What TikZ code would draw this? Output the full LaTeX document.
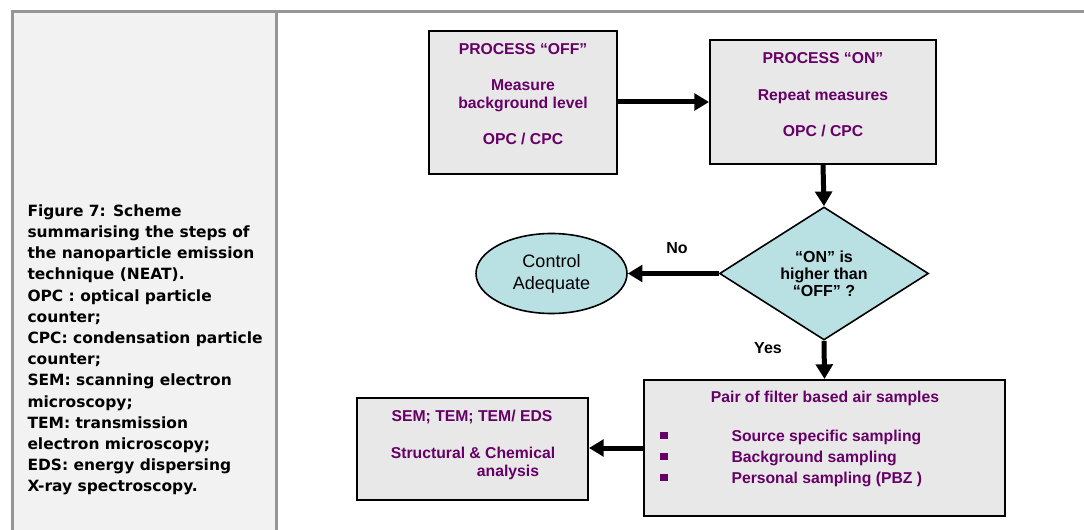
\documentclass[tikz,border=0pt]{standalone}
\usepackage{fontspec}
\setmainfont{Liberation Sans}
\newfontfamily\capfont{DejaVu Sans}
\usetikzlibrary{arrows.meta,shapes.geometric}

\definecolor{boxgrey}{RGB}{232,232,232}
\definecolor{cellgrey}{RGB}{242,242,242}
\definecolor{rulegrey}{RGB}{150,150,150}
\definecolor{plum}{RGB}{102,0,102}
\definecolor{paleblue}{RGB}{185,224,227}

\tikzset{every picture/.style={line width=0.75pt}}
\tikzset{
  stepbox/.style={draw=black, line width=1.5pt, fill=boxgrey, inner sep=0pt},
  testshape/.style={draw=black, line width=1.2pt, fill=paleblue, inner sep=0pt},
  plumtext/.style={text=plum, font=\bfseries\fontsize{11.8}{13.5}\selectfont, inner sep=0pt, align=center},
  blacktext/.style={text=black, font=\bfseries\fontsize{12}{12.75}\selectfont, inner sep=0pt, align=center},
  flowarrow/.style={line width=3.75pt, -{Triangle[length=11pt,width=12.5pt]}},
  bulletsq/.style={fill=plum, minimum size=5.5pt, inner sep=0pt},
}

\begin{document}
\begin{tikzpicture}[x=0.75pt,y=0.75pt,yscale=-1,xscale=1]
\useasboundingbox (0,0) rectangle (1084,530);

%Shape: Rectangle [caption cell]
\fill[cellgrey] (12,12) rectangle (276,530);
\draw[rulegrey, line width=2.25pt] (12,530) -- (12,12) -- (1084,12);
\draw[rulegrey, line width=2.25pt] (276,12) -- (276,530);

%Caption
\node[anchor=north west, inner sep=0pt, align=left, font=\capfont\bfseries\fontsize{11.6}{15.9}\selectfont] (caption) at (27,204)
  {Figure 7: Scheme\\ summarising the steps of\\ the nanoparticle emission\\ technique (NEAT).\\ OPC : optical particle\\ counter;\\ CPC: condensation particle\\ counter;\\ SEM: scanning electron\\ microscopy;\\ TEM: transmission\\ electron microscopy;\\ EDS: energy dispersing\\ X-ray spectroscopy.};

%Shape: Rectangle [process off]
\node[stepbox, minimum width=141pt, minimum height=107.25pt] (off) at (523,102.5) {};
\node[plumtext] (offtext) at (523,94.5) {PROCESS “OFF”\\[13.5pt] Measure\\ background level\\[13.5pt] OPC / CPC};

%Shape: Rectangle [process on]
\node[stepbox, minimum width=169.5pt, minimum height=93pt] (on) at (823,102) {};
\node[plumtext] (ontext) at (823,95) {PROCESS “ON”\\[14pt] Repeat measures\\[14pt] OPC / CPC};

%Flowchart: Decision
\node[testshape, diamond, minimum width=156.75pt, minimum height=99.75pt, blacktext] (cond) at (824,273.5) {“ON” is\\ higher than\\ “OFF” ?};

%Flowchart: Connector
\node[testshape, ellipse, minimum width=113.25pt, minimum height=60pt, font=\fontsize{13.5}{16.5}\selectfont, align=center] (ctrl) at (551.5,273.5) {Control\\ Adequate};

%Shape: Rectangle [air samples]
\node[stepbox, minimum width=270.75pt, minimum height=102pt] (pair) at (824.5,448) {};
\node[plumtext] (pairtitle) at (825,398) {Pair of filter based air samples};
\foreach \yy/\txt [count=\i] in {437/Source specific sampling, 458/Background sampling, 479/Personal sampling (PBZ )}{
  \node[bulletsq] (blt\i) at (664,\yy-1.5) {};
  \node[plumtext, anchor=west] (smp\i) at (731,\yy) {\txt};
}

%Shape: Rectangle [analysis]
\node[stepbox, minimum width=172.9pt, minimum height=76.5pt] (sem) at (472.75,449) {};
\node[plumtext] (semtitle) at (472,417) {SEM; TEM; TEM/ EDS};
\node[plumtext] (semline) at (473,453) {Structural \& Chemical};
\node[plumtext] (semlast) at (508,472) {analysis};

%Straight Lines
\draw[flowarrow] (off.east |- 0,102) -- (on.west |- 0,102);
\draw[flowarrow] (on.south) -- (cond.north);
\draw[flowarrow] (cond.west) -- (ctrl.east);
\draw[flowarrow] (cond.south) -- (pair.north);
\draw[flowarrow] (pair.west |- 0,448) -- (sem.east |- 0,448);

%Labels
\node[blacktext] (nolbl) at (677,248) {No};
\node[blacktext] (yeslbl) at (768,348) {Yes};

\end{tikzpicture}
\end{document}
